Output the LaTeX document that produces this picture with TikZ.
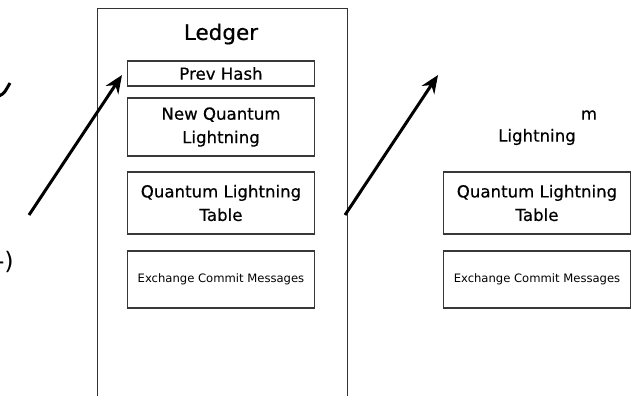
\documentclass[tikz,border=0pt]{standalone}
\usepackage{fontspec}
\setmainfont{DejaVu Sans}
\newfontfamily\medfont{DejaVu Sans}[FakeBold=0.5]
\usetikzlibrary{arrows.meta}
\begin{document}
\begin{tikzpicture}[x=1pt,y=-1pt,
  box/.style={draw=black!78, line width=1.3pt, minimum width=187pt, inner sep=0pt, align=center, font=\medfont\fontsize{16.6}{23.5}\selectfont},
  smallbox/.style={box, font=\fontsize{11.6}{13}\selectfont},
  lbl/.style={font=\medfont\fontsize{16.6}{18}\selectfont},
  arr/.style={line width=3pt, -{Stealth[length=18pt,width=15pt]}},
  thick line/.style={line width=3pt}]
\useasboundingbox (0,0) rectangle (637,396);
% Ledger outer frame
\draw[black!80, line width=1pt] (97,400) -- (97,9) -- (347,9) -- (347,400);
\node[font=\medfont\fontsize{21.5}{24}\selectfont] (ledger) at (221,34) {Ledger};
% left column
\node[box, minimum height=25pt] (ph) at (221,73.5) {Prev Hash};
\node[box, minimum height=58pt] (nql) at (221,127) {New Quantum\\Lightning};
\node[box, minimum height=62pt] (qlt) at (221,203) {Quantum Lightning\\Table};
\node[smallbox, minimum height=57pt] (ecm) at (221,279.5) {Exchange Commit Messages};
% right column
\node[lbl] (m) at (589,115) {m};
\node[lbl] (lt) at (537,137) {Lightning};
\node[box, minimum height=62pt] (qlt2) at (537,203) {Quantum Lightning\\Table};
\node[smallbox, minimum height=57pt] (ecm2) at (537,279.5) {Exchange Commit Messages};
% arrows
\coordinate (a1s) at (29,215);
\coordinate (a1e) at (122,75);
\coordinate (a2s) at (345,215);
\coordinate (a2e) at (438,75);
\draw[arr] (a1s) -- (a1e);
\draw[arr] (a2s) -- (a2e);
% cut-off fragments at the left edge
\coordinate (c1) at (-1,96);
\coordinate (c2) at (10,83);
\draw[thick line] (c1) .. controls (4,93.5) .. (c2);
\node[anchor=east, inner sep=0pt, font=\fontsize{24}{26}\selectfont] (par) at (14,262) {-)};
\end{tikzpicture}
\end{document}
